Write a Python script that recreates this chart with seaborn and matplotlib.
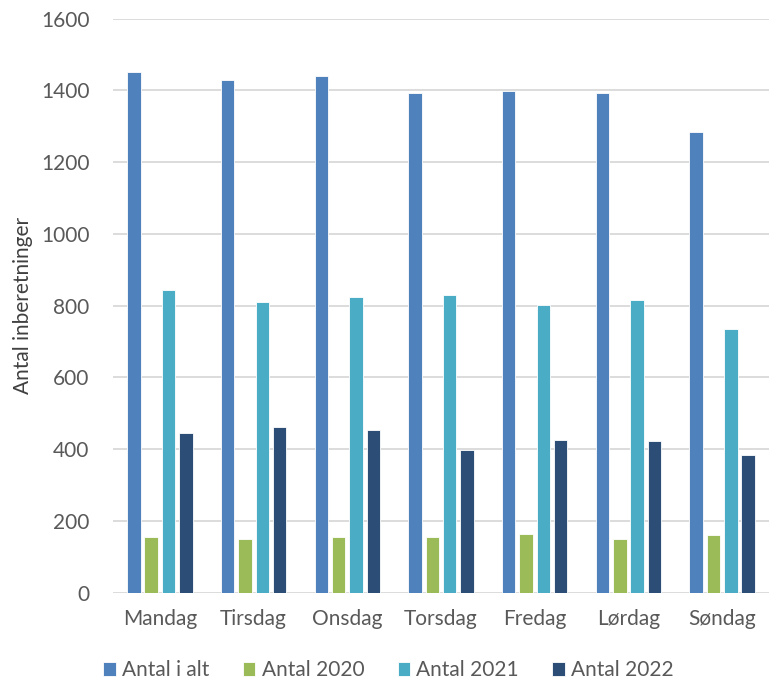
import pandas as pd
import matplotlib.pyplot as plt
import seaborn as sns

days = ["Mandag", "Tirsdag", "Onsdag", "Torsdag", "Fredag", "Lørdag", "Søndag"]
series_names = ["Antal i alt", "Antal 2020", "Antal 2021", "Antal 2022"]
antal_i_alt = [1452, 1428, 1439, 1392, 1399, 1392, 1285]
antal_2020 = [155, 149, 155, 155, 165, 151, 161]
antal_2021 = [845, 809, 825, 830, 802, 816, 734]
antal_2022 = [444, 463, 453, 398, 427, 423, 384]
colors = ["#4F81BD", "#9BBB59", "#4BACC6", "#2C4D75"]

rows = []
for name, vals in zip(series_names, [antal_i_alt, antal_2020, antal_2021, antal_2022]):
    for d, v in zip(days, vals):
        rows.append({"dag": d, "serie": name, "antal": v})
df = pd.DataFrame(rows)

sns.set_theme(style="white")
plt.rcParams["font.family"] = ["Lato", "DejaVu Sans"]

fig = plt.figure(figsize=(7.69, 6.9), dpi=100)
ax = fig.add_axes([0.147, 0.141, 0.853, 0.832])

sns.barplot(data=df, x="dag", y="antal", hue="serie", order=days,
            hue_order=series_names, palette=colors, saturation=1,
            width=0.74, gap=0.22, edgecolor="white", linewidth=0.6,
            ax=ax, zorder=3)

ax.set_ylim(0, 1600)
ax.set_xlim(-0.5, 6.5)
ax.set_yticks(range(0, 1601, 200))
ax.yaxis.grid(True, color="#D9D9D9", linewidth=1.3, zorder=0)
ax.set_axisbelow(True)
for s in ax.spines.values():
    s.set_visible(False)
ax.tick_params(axis="both", length=0, labelsize=15, colors="#595959")
ax.tick_params(axis="x", pad=12)
ax.tick_params(axis="y", pad=17)
ax.set_xlabel("")
ax.set_ylabel("Antal inberetninger", fontsize=15, color="#404040", labelpad=6)

leg = ax.legend(loc="upper center", bbox_to_anchor=(0.42, -0.085), ncol=4,
                frameon=False, fontsize=15, handlelength=0.6, handleheight=0.6,
                handletextpad=0.3, columnspacing=1.6)
for t in leg.get_texts():
    t.set_color("#595959")

fig.savefig("out.png", dpi=100)
